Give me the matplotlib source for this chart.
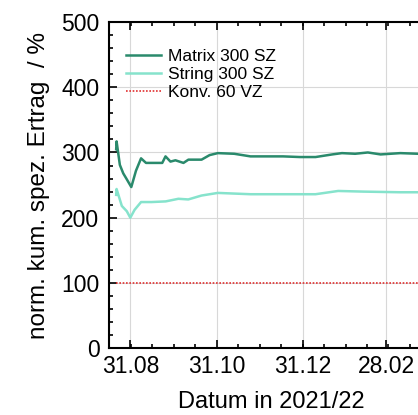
import matplotlib.pyplot as plt
import numpy as np

plt.rcParams['font.family'] = ['Liberation Sans', 'DejaVu Sans']

# days relative to 31.08.2021
matrix_days = [-10, -9.7, -7.4, -5, -2.8, 0.7, 4, 7.6, 11.1, 16, 22.6, 24.9, 28.4, 31.9, 37.6,
               41.1, 46, 50.4, 56.1, 61.9, 73.5, 85, 100, 108, 120, 131, 142.8, 149.7, 159,
               168, 177, 191, 203.7, 215]
matrix_vals = [305, 317, 281, 268, 260, 247, 272, 291, 284, 284, 284, 294, 286, 288, 284,
               289, 289, 289, 296, 299, 298, 294, 294, 294, 293, 293, 297, 299, 298, 300,
               297, 299, 298, 298]

string_days = [-10, -9.7, -6, -2.5, 0, 3, 7.6, 15, 25, 34, 41, 50.4, 61.9, 85, 108, 131,
               147, 165, 191, 203.7, 215]
string_vals = [235, 244, 218, 210, 200, 212, 224, 224, 225, 229, 228, 234, 238, 236, 236,
               236, 241, 240, 239, 239, 239]

konv_days = [-10, 215]
konv_vals = [100, 100]

tick_days = [0, 61, 122, 181]
tick_labels = ['31.08', '31.10', '31.12', '28.02']

fig = plt.figure(figsize=(4.18, 4.15), dpi=100)
ax = fig.add_axes([0.261, 0.161, 0.778, 0.786])

ax.plot(matrix_days, matrix_vals, color='#2a8a6c', lw=1.8, label='Matrix 300 SZ')
ax.plot(string_days, string_vals, color='#86e3cc', lw=1.8, label='String 300 SZ')
ax.plot(konv_days, konv_vals, color='#e03030', lw=1.2, ls=(0, (1, 1)), label='Konv. 60 VZ')

ax.set_xlim(-10.4, 215)
ax.set_ylim(0, 500)
ax.set_xticks(tick_days)
ax.set_xticklabels(tick_labels)
ax.set_xticks(np.arange(-15, 215, 15.2), minor=True)
ax.set_yticks(np.arange(0, 501, 100))
ax.set_yticks(np.arange(0, 501, 20), minor=True)

ax.grid(True, which='major', color='#d8d8d8', lw=0.8)
ax.tick_params(axis='both', which='both', direction='in', top=True, right=True,
               labelsize=16.5, width=1.2)
ax.tick_params(which='major', length=6)
ax.tick_params(which='minor', length=3)
ax.tick_params(axis='x', pad=5)
ax.tick_params(axis='y', pad=7)
for s in ax.spines.values():
    s.set_linewidth(1.5)

ax.set_xlabel('Datum in 2021/22', fontsize=17, labelpad=9)
ax.set_ylabel('norm. kum. spez. Ertrag  / %', fontsize=17.5, labelpad=8)

ax.legend(loc='upper left', bbox_to_anchor=(0.0, 0.97), frameon=False, fontsize=12.5,
          handlelength=2.0, handletextpad=0.4, labelspacing=0.15, borderaxespad=0.6)

fig.savefig('out.png', dpi=100)
